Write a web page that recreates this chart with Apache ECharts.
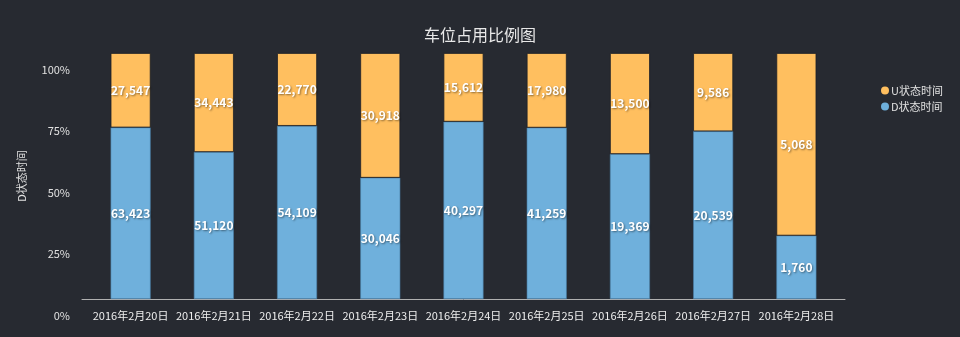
<!DOCTYPE html>
<html>
<head>
<meta charset="utf-8">
<script src="https://cdn.jsdelivr.net/npm/echarts@6/dist/echarts.min.js"></script>
<style>
  html, body { margin: 0; padding: 0; background: #272a31; }
  #chart { width: 960px; height: 337px; }
</style>
</head>
<body>
<div id="chart"></div>
<script>
// Daily parking-space occupancy: time in D state vs U state
const categories = ['2016年2月20日', '2016年2月21日', '2016年2月22日', '2016年2月23日', '2016年2月24日',
                    '2016年2月25日', '2016年2月26日', '2016年2月27日', '2016年2月28日'];
const dTime = [63423, 51120, 54109, 30046, 40297, 41259, 19369, 20539, 1760];
const uTime = [27547, 34443, 22770, 30918, 15612, 17980, 13500, 9586, 5068];
const yTicks = [0, 25, 50, 75, 100];

// Share of each state per day, in percent
const dShare = dTime.map((d, i) => d / (d + uTime[i]) * 100);
const uShare = uTime.map((u, i) => u / (dTime[i] + u) * 100);

const fmt = n => n.toLocaleString('en-US');
const font = '"Noto Sans CJK SC", "Noto Sans", sans-serif';

const labelStyle = {
  show: true,
  position: 'inside',
  color: '#fff',
  fontSize: 12,
  fontWeight: 'bold',
  fontFamily: font,
  textShadowColor: 'rgba(0,0,0,0.45)',
  textShadowBlur: 2,
  textShadowOffsetX: 1,
  textShadowOffsetY: 1
};

const chart = echarts.init(document.getElementById('chart'));
chart.setOption({
  backgroundColor: '#272a31',
  textStyle: { fontFamily: font },
  title: {
    text: '车位占用比例图',
    left: 'center',
    top: 22,
    textStyle: { color: '#e8e8e8', fontSize: 16, fontWeight: 'normal', fontFamily: font }
  },
  legend: {
    orient: 'vertical',
    left: 876,
    top: 80,
    itemWidth: 8,
    itemHeight: 8,
    itemGap: 5,
    icon: 'circle',
    itemStyle: { borderWidth: 0 },
    textStyle: { color: '#e0e0e0', fontSize: 11, fontFamily: font, padding: [0, 0, 0, -3] },
    data: ['U状态时间', 'D状态时间']
  },
  grid: [
    // plotting area for the bars
    { left: 89, right: 122, top: 53, bottom: 38 },
    // slightly wider baseline under the bars
    { left: 82, right: 115, top: 53, bottom: 38 }
  ],
  xAxis: [
    {
      type: 'category',
      gridIndex: 0,
      data: categories,
      axisLine: { show: false },
      axisTick: { show: false },
      axisLabel: { color: '#eeeeee', fontSize: 11, margin: 11, fontFamily: font, interval: 0 }
    },
    {
      type: 'category',
      gridIndex: 1,
      data: categories,
      axisLine: { lineStyle: { color: '#b0b0b0' } },
      axisTick: { show: false },
      axisLabel: { show: false }
    }
  ],
  yAxis: [
    {
      type: 'value',
      gridIndex: 0,
      min: yTicks[0],
      max: yTicks[yTicks.length - 1],
      interval: 25,
      name: 'D状态时间',
      nameLocation: 'middle',
      nameGap: 62,
      nameTextStyle: { color: '#e0e0e0', fontSize: 11, fontFamily: font },
      axisLine: { show: false },
      axisTick: { show: false },
      splitLine: { show: false },
      axisLabel: {
        color: '#e0e0e0',
        fontSize: 11,
        margin: 19,
        verticalAlign: 'top',
        padding: [11, 0, 0, 0],
        fontFamily: font,
        formatter: v => v + '%'
      }
    },
    {
      type: 'value',
      gridIndex: 1,
      show: false
    }
  ],
  series: [
    {
      name: 'D状态时间',
      type: 'bar',
      stack: 'share',
      barWidth: 40,
      data: dShare,
      itemStyle: { color: '#6fb0dc', borderColor: '#4a7fa8', borderWidth: 0.6 },
      label: Object.assign({}, labelStyle, { formatter: p => fmt(dTime[p.dataIndex]) })
    },
    {
      name: 'U状态时间',
      type: 'bar',
      stack: 'share',
      barWidth: 40,
      data: uShare,
      itemStyle: { color: '#ffbf5f', borderColor: '#1e2127', borderWidth: 0.8 },
      label: Object.assign({}, labelStyle, { formatter: p => fmt(uTime[p.dataIndex]) })
    }
  ]
});
</script>
</body>
</html>
